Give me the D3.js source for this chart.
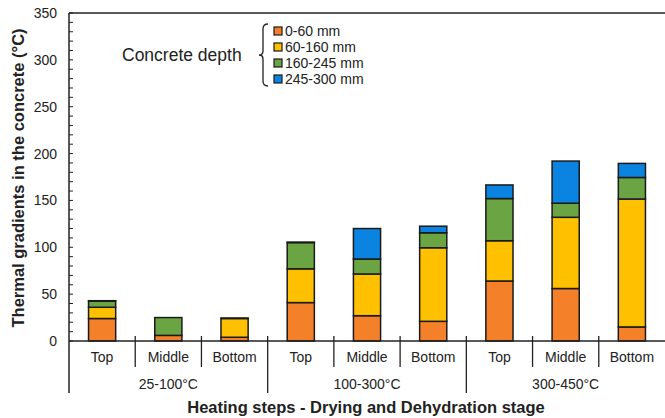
<!DOCTYPE html>
<html><head><meta charset="utf-8">
<script src="https://cdn.jsdelivr.net/npm/d3@7/dist/d3.min.js"></script>
<style>body{margin:0;background:#fff}svg{display:block}text{font-family:"Liberation Sans",Arial,sans-serif;fill:#222}</style>
</head><body><svg id="c" width="665" height="418"></svg>
<script>
const categories = ["Top","Middle","Bottom","Top","Middle","Bottom","Top","Middle","Bottom"];
const groups = ["25-100°C","100-300°C","300-450°C"];
const seriesNames = ["0-60 mm","60-160 mm","160-245 mm","245-300 mm"];
const s0_60 = [24, 6, 4, 41, 27, 21, 64, 56, 15];
const s60_160 = [12, 0, 20, 36, 44.5, 78.5, 43, 76, 136.5];
const s160_245 = [6.5, 19, 0.5, 28, 16, 16, 45, 15, 23];
const s245_300 = [0.5, 0, 0, 0.5, 32.5, 7, 14.5, 45, 15];
const yTicks = [0, 50, 100, 150, 200, 250, 300, 350];
const colors = ["#F4812A", "#FFC000", "#6AA443", "#0A84E0"];

const svg = d3.select("#c");
const L = 69, R = 665, T = 13, B = 341;
const idx = d3.range(categories.length);
const x = d3.scaleBand().domain(idx).range([L, R]).paddingInner(0.59).paddingOuter(0.295);
const y = d3.scaleLinear().domain([0, 350]).range([B, T]);
const step = x.step();

const table = idx.map(i => ({i, a: s0_60[i], b: s60_160[i], c: s160_245[i], d: s245_300[i]}));
const stack = d3.stack().keys(["a","b","c","d"])(table);

// top border
svg.append("line").attr("x1", L).attr("x2", R).attr("y1", T).attr("y2", T).attr("stroke", "#222").attr("stroke-width", 1.5);

// bars
stack.forEach((layer, k) => {
  svg.append("g").selectAll("rect").data(layer.filter(d => d[1] - d[0] > 0)).join("rect")
    .attr("x", d => x(d.data.i)).attr("width", x.bandwidth())
    .attr("y", d => y(d[1])).attr("height", d => y(d[0]) - y(d[1]))
    .attr("fill", colors[k]).attr("stroke", "#1a1a1a").attr("stroke-width", 1.5);
});

// y axis
const yAxis = d3.axisLeft(y).tickValues(yTicks).tickSize(0).tickPadding(12);
const gy = svg.append("g").attr("transform", `translate(${L},0)`).call(yAxis);
gy.select(".domain").remove();
gy.selectAll("text").style("font-size", "14px").attr("fill", "#222");
// minor ticks inside
svg.append("g").selectAll("line").data(d3.range(0, 351, 10)).join("line")
  .attr("x1", L).attr("x2", L + 4).attr("y1", d => y(d)).attr("y2", d => y(d))
  .attr("stroke", "#222").attr("stroke-width", 1);
svg.append("line").attr("x1", L).attr("x2", L).attr("y1", T).attr("y2", 393).attr("stroke", "#222").attr("stroke-width", 1.5);

// x axis line
svg.append("line").attr("x1", L).attr("x2", R).attr("y1", B).attr("y2", B).attr("stroke", "#222").attr("stroke-width", 1.5);
// dividers
svg.append("g").selectAll("line").data(d3.range(1, 9)).join("line")
  .attr("x1", k => L + k * step).attr("x2", k => L + k * step)
  .attr("y1", B - 5).attr("y2", k => k % 3 === 0 ? 393 : 367)
  .attr("stroke", "#222").attr("stroke-width", 1.3);
// category labels
svg.append("g").selectAll("text").data(idx).join("text")
  .attr("x", i => x(i) + x.bandwidth() / 2).attr("y", 362)
  .attr("text-anchor", "middle").style("font-size", "14px").text(i => categories[i]);
// group labels
svg.append("g").selectAll("text").data(groups).join("text")
  .attr("x", (g, j) => L + (j * 3 + 1.5) * step).attr("y", 389)
  .attr("text-anchor", "middle").style("font-size", "14px").text(g => g);
// axis titles
svg.append("text").attr("x", (L + R) / 2 - 1).attr("y", 413).attr("text-anchor", "middle")
  .style("font-size", "16.5px").style("font-weight", "bold").text("Heating steps - Drying and Dehydration stage");
svg.append("text").attr("transform", `translate(24,${(T + B) / 2 + 1}) rotate(-90)`).attr("text-anchor", "middle")
  .style("font-size", "16.5px").style("font-weight", "bold").text("Thermal gradients in the concrete (°C)");

// legend
svg.append("text").attr("x", 122).attr("y", 61).style("font-size", "17.5px").text("Concrete depth");
svg.append("path").attr("d", "M268,24 Q263,24 263,29 L263,51 Q263,55 259,55 Q263,55 263,59 L263,81 Q263,86 268,86")
  .attr("fill", "none").attr("stroke", "#222").attr("stroke-width", 1.3);
const lg = svg.append("g").selectAll("g").data(seriesNames).join("g")
  .attr("transform", (d, k) => `translate(274,${31 + k * 16})`);
lg.append("rect").attr("x", 0).attr("y", -4).attr("width", 8).attr("height", 8)
  .attr("fill", (d, k) => colors[k]).attr("stroke", "#1a1a1a").attr("stroke-width", 1.2);
lg.append("text").attr("x", 11).attr("y", 5).style("font-size", "14px").text(d => d);
</script></body></html>
